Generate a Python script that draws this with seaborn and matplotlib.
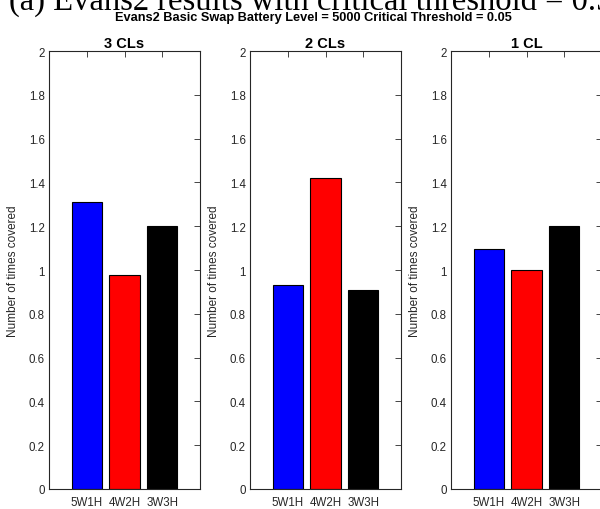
import numpy as np
import pandas as pd
import matplotlib
matplotlib.use("Agg")
import matplotlib.pyplot as plt
import seaborn as sns

# values
schemes = ['5W1H', '4W2H', '3W3H']
panels = ['3 CLs', '2 CLs', '1 CL']
cov_3cl = [1.31, 0.975, 1.20]
cov_2cl = [0.933, 1.42, 0.91]
cov_1cl = [1.097, 1.0, 1.20]
bar_colors = ['#0000ff', '#ff0000', '#000000']
yticks = [0, 0.2, 0.4, 0.6, 0.8, 1, 1.2, 1.4, 1.6, 1.8, 2]
ytick_labels = ['0', '0.2', '0.4', '0.6', '0.8', '1', '1.2', '1.4', '1.6', '1.8', '2']

sns.set_theme(style='white')
plt.rcParams['font.family'] = ['Liberation Sans', 'DejaVu Sans']
ink = '#262626'

df = pd.DataFrame({
    'panel': np.repeat(panels, len(schemes)),
    'scheme': schemes * len(panels),
    'covered': cov_3cl + cov_2cl + cov_1cl,
})

fig = plt.figure(figsize=(6.0, 5.1), dpi=100)

W, H = 600.0, 510.0
ax_w, ax_h = 151 / W, 438 / H
for i, name in enumerate(panels):
    left = (49 + 201 * i) / W
    ax = fig.add_axes([left, 20 / H, ax_w, ax_h])
    sub = df[df.panel == name]
    sns.barplot(data=sub, x='scheme', y='covered', hue='scheme',
                palette=bar_colors, order=schemes, hue_order=schemes,
                width=0.8, saturation=1, edgecolor='black', linewidth=0.8,
                legend=False, ax=ax)
    ax.set_xlim(-1, 3)
    ax.set_ylim(0, 2)
    ax.set_yticks(yticks)
    ax.set_yticklabels(ytick_labels)
    ax.set_xlabel('')
    ax.set_ylabel('Number of times covered', fontsize=8.5, color=ink, labelpad=7)
    ax.set_title(name, fontsize=10.5, fontweight='bold', color='black', pad=3)
    ax.tick_params(axis='both', direction='in', length=4, width=0.6,
                   color=ink, labelcolor=ink, labelsize=8.3,
                   top=True, right=True, pad=3)
    ax.tick_params(axis='x', pad=5)
    for s in ax.spines.values():
        s.set_visible(True)
        s.set_color(ink)
        s.set_linewidth(0.8)

fig.text(0.522, 1 - 18.5 / H,
         'Evans2 Basic Swap Battery Level = 5000 Critical Threshold = 0.05',
         ha='center', va='center', fontsize=9.2, fontweight='bold', color='black')
fig.text(9 / W, 1 - 10 / H, '(a) Evans2 results with critical threshold = 0.5',
         ha='left', va='baseline', fontsize=23.5, family=['Liberation Serif'], color='black')

fig.savefig('out.png', dpi=100)
